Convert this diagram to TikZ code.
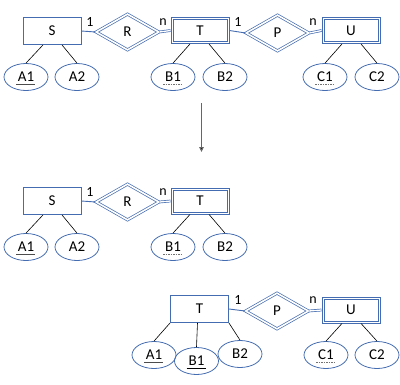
\documentclass[tikz,border=0pt]{standalone}
\usepackage{fontspec}
\setmainfont{Carlito}
\usetikzlibrary{shapes.geometric,arrows.meta}
\definecolor{erblue}{RGB}{68,108,176}
\tikzset{
  ent/.style={draw=erblue,line width=0.9pt,minimum width=58pt,minimum height=27pt,inner sep=0pt,font=\fontsize{15}{17}\selectfont},
  weak/.style={ent,minimum width=58pt,minimum height=26pt},
  inner/.style={draw=erblue,line width=0.8pt},
  rel/.style={draw=erblue,diamond,aspect=1.75,double=white,double distance=1.6pt,line width=0.7pt,minimum width=63pt,minimum height=36pt,inner sep=0pt,font=\fontsize{15}{17}\selectfont},
  attr/.style={draw=erblue,ellipse,line width=0.8pt,minimum width=44pt,minimum height=27pt,inner sep=0pt,font=\fontsize{15}{17}\selectfont},
  alink/.style={draw=black,line width=0.6pt},
  rlink/.style={draw=erblue,line width=0.9pt},
  tlink/.style={draw=erblue,double=white,double distance=1.3pt,line width=0.7pt},
  card/.style={font=\fontsize{14}{16}\selectfont,inner sep=0pt},
  keysolid/.style={draw=black!70,line width=0.9pt},
  keydash/.style={draw=black!55,line width=0.9pt,dash pattern=on 1.5pt off 1pt},
}
\begin{document}
\begin{tikzpicture}[x=1pt,y=-1pt]
\useasboundingbox (0,0) rectangle (400,384);
% ---------- top row ----------
\node[ent] (s1) at (52,31) {S};
\node[rel] (r1) at (127.5,32) {R};
\node[weak] (t1) at (200,30.5) {T};
\node[rel] (p1) at (277.5,33) {P};
\node[weak] (u1) at (351,30.5) {U};
\draw[inner] ([shift={(2.5,2.5)}]t1.north west) rectangle ([shift={(-2.5,-2.5)}]t1.south east);
\draw[inner] ([shift={(2.5,2.5)}]u1.north west) rectangle ([shift={(-2.5,-2.5)}]u1.south east);
\node[attr] (a11) at (26,77) {A1};
\node[attr] (a21) at (77,77) {A2};
\node[attr] (b11) at (173,77) {B1};
\node[attr] (b21) at (225,77) {B2};
\node[attr] (c11) at (325,77) {C1};
\node[attr] (c21) at (377,77) {C2};
\draw[rlink] (s1.east) -- (r1.west);
\draw[tlink] (r1.east) -- (t1.west);
\draw[rlink] (t1.east) -- (p1.west);
\draw[tlink] (p1.east) -- (u1.west);
\node[card] (l11) at (90,22) {1};
\node[card] (ln1) at (163,22) {n};
\node[card] (l12) at (238,22) {1};
\node[card] (ln2) at (313,22) {n};
\draw[alink] ([xshift=-9pt]s1.south) -- (a11.north);
\draw[alink] ([xshift=10pt]s1.south) -- (a21.north);
\draw[alink] ([xshift=-10pt]t1.south) -- (b11.north);
\draw[alink] ([xshift=9pt]t1.south) -- (b21.north);
\draw[alink] ([xshift=-9pt]u1.south) -- (c11.north);
\draw[alink] ([xshift=10pt]u1.south) -- (c21.north);
\draw[keysolid] ([xshift=-10pt,yshift=-7.5pt]a11.center) -- ++(19,0);
\draw[keydash] ([xshift=-10pt,yshift=-7.5pt]b11.center) -- ++(19,0);
\draw[keydash] ([xshift=-10pt,yshift=-7.5pt]c11.center) -- ++(19,0);
% ---------- arrow ----------
\coordinate (ar0) at (201.5,103);
\coordinate (ar1) at (201.5,152);
\draw[draw=black!60,line width=1pt,-{Triangle[length=5pt,width=4.5pt,fill=black]}] (ar0) -- (ar1);
% ---------- middle row ----------
\node[ent] (s2) at (52,201) {S};
\node[rel] (r2) at (127.5,202) {R};
\node[weak] (t2) at (200,201) {T};
\draw[inner] ([shift={(2.5,2.5)}]t2.north west) rectangle ([shift={(-2.5,-2.5)}]t2.south east);
\node[attr] (a12) at (26,247) {A1};
\node[attr] (a22) at (77,247) {A2};
\node[attr] (b12) at (173,247) {B1};
\node[attr] (b22) at (225,247) {B2};
\draw[rlink] (s2.east) -- (r2.west);
\draw[tlink] (r2.east) -- (t2.west);
\node[card] (l21) at (90,192) {1};
\node[card] (ln21) at (163,192) {n};
\draw[alink] ([xshift=-9pt]s2.south) -- (a12.north);
\draw[alink] ([xshift=10pt]s2.south) -- (a22.north);
\draw[alink] ([xshift=-10pt]t2.south) -- (b12.north);
\draw[alink] ([xshift=9pt]t2.south) -- (b22.north);
\draw[keysolid] ([xshift=-10pt,yshift=-7.5pt]a12.center) -- ++(19,0);
\draw[keydash] ([xshift=-10pt,yshift=-7.5pt]b12.center) -- ++(19,0);
% ---------- bottom row ----------
\node[ent] (t3) at (199.5,309) {T};
\node[rel] (p3) at (277,311) {P};
\node[weak] (u3) at (351,310) {U};
\draw[inner] ([shift={(2.5,2.5)}]u3.north west) rectangle ([shift={(-2.5,-2.5)}]u3.south east);
\node[attr] (a13) at (154,355) {A1};
\node[attr] (b13) at (196.5,361) {B1};
\node[attr] (b23) at (240,354) {B2};
\node[attr] (c13) at (326,355) {C1};
\node[attr] (c23) at (377,355) {C2};
\draw[rlink] (t3.east) -- (p3.west);
\draw[tlink] (p3.east) -- (u3.west);
\node[card] (l31) at (238,300) {1};
\node[card] (ln31) at (313,300) {n};
\draw[alink] (t3.south west) -- (a13.north);
\draw[alink] ([xshift=-2pt]t3.south) -- (b13.north);
\draw[alink] (t3.south east) -- (b23.north);
\draw[alink] ([xshift=-9pt]u3.south) -- (c13.north);
\draw[alink] ([xshift=10pt]u3.south) -- (c23.north);
\draw[keysolid] ([xshift=-10pt,yshift=-7.5pt]a13.center) -- ++(19,0);
\draw[keysolid,draw=black] ([xshift=-10pt,yshift=-7.5pt]b13.center) -- ++(19,0);
\draw[keydash] ([xshift=-10pt,yshift=-7.5pt]c13.center) -- ++(19,0);
\end{tikzpicture}
\end{document}
